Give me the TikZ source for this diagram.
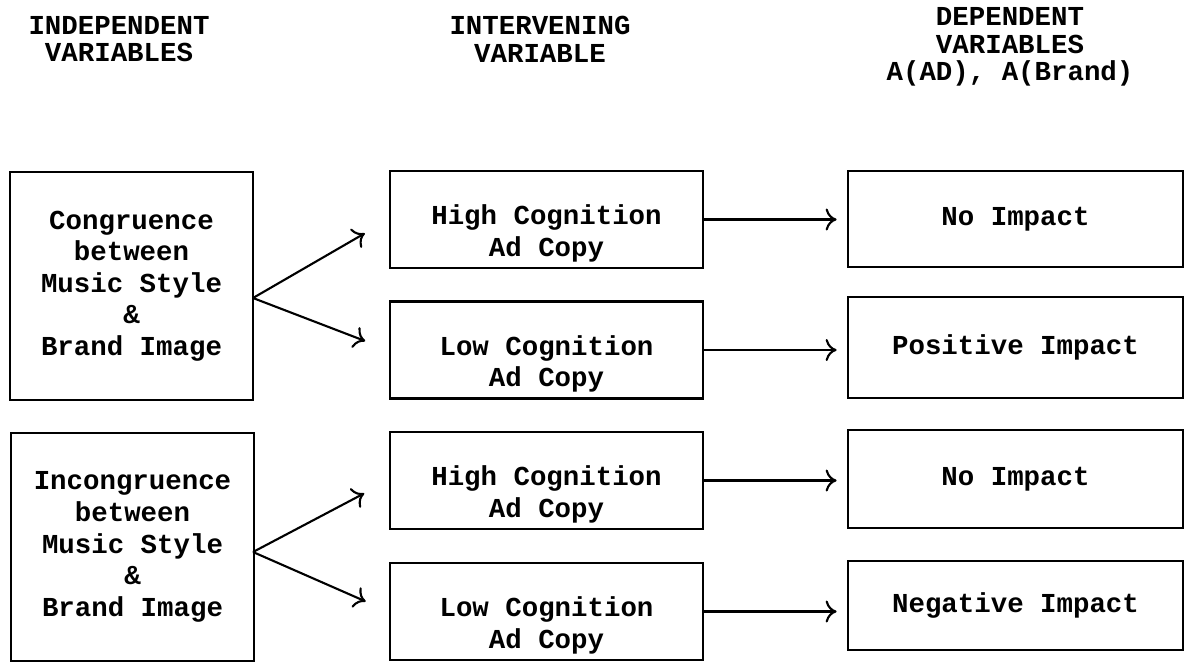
\documentclass[tikz,border=0pt]{standalone}
\usepackage{fontspec}
\setmonofont{Liberation Mono}
\usetikzlibrary{arrows.meta}

\begin{document}
\begin{tikzpicture}[every node/.style={font=\ttfamily\bfseries\fontsize{15.6}{18}\selectfont, align=center},
    head/.style={font=\ttfamily\bfseries\fontsize{15.6}{15.8}\selectfont},
    box/.style={draw, line width=1.6pt, inner sep=0pt},
    lbox/.style={box, minimum width=4.86cm, minimum height=4.56cm},
    mbox/.style={box, minimum width=6.26cm, minimum height=1.94cm},
    rbox/.style={box, minimum width=6.7cm},
    arr/.style={-{Computer Modern Rightarrow[length=2.2mm,width=4.4mm]}, line width=1.2pt}]

      \useasboundingbox (0,0) rectangle (23.82,-13.22);

      \node[head] (A) at (2.38,-0.78) {INDEPENDENT\\VARIABLES};
      \node[head] (B) at (10.80,-0.78) {INTERVENING\\VARIABLE};
      \node[head] (C) at (20.20,-0.94) {DEPENDENT\\VARIABLES\\A(AD), A(Brand)};

      \node[lbox] (L1) at (2.63,-5.72) {Congruence\\between\\Music Style\\\&\\Brand Image};
      \node[lbox] (L2) at (2.65,-10.94) {Incongruence\\between\\Music Style\\\&\\Brand Image};

      \node[mbox, label={[yshift=-0.28cm]center:High Cognition\\Ad Copy}] (M1) at (10.93,-4.39) {};
      \node[mbox, label={[yshift=-0.28cm]center:Low Cognition\\Ad Copy}] (M2) at (10.93,-7.00) {};
      \node[mbox, label={[yshift=-0.28cm]center:High Cognition\\Ad Copy}] (M3) at (10.93,-9.61) {};
      \node[mbox, label={[yshift=-0.28cm]center:Low Cognition\\Ad Copy}] (M4) at (10.93,-12.23) {};

      \node[rbox, minimum height=1.92cm] (R1) at (20.31,-4.38) {No Impact};
      \node[rbox, minimum height=2.02cm] (R2) at (20.31,-6.95) {Positive Impact};
      \node[rbox, minimum height=1.96cm] (R3) at (20.31,-9.58) {No Impact};
      \node[rbox, minimum height=1.78cm] (R4) at (20.31,-12.11) {Negative Impact};

      \coordinate (f1) at (5.06,-5.96);
      \coordinate (f2) at (5.06,-11.04);
        \draw[arr, shorten >=0.55cm] (f1) -- (M1.west);
        \draw[arr, shorten >=0.5cm] (f1) -- (M2.west);
        \draw[arr, shorten >=0.55cm] (f2) -- (M3.west);
        \draw[arr, shorten >=0.5cm] (f2) -- (M4.west);

        \draw[arr, shorten >=0.2cm] (M1.east) -- (M1.east -| R1.west);
        \draw[arr, shorten >=0.2cm] (M2.east) -- (M2.east -| R2.west);
        \draw[arr, shorten >=0.2cm] (M3.east) -- (M3.east -| R3.west);
        \draw[arr, shorten >=0.2cm] (M4.east) -- (M4.east -| R4.west);

    \end{tikzpicture}
\end{document}
